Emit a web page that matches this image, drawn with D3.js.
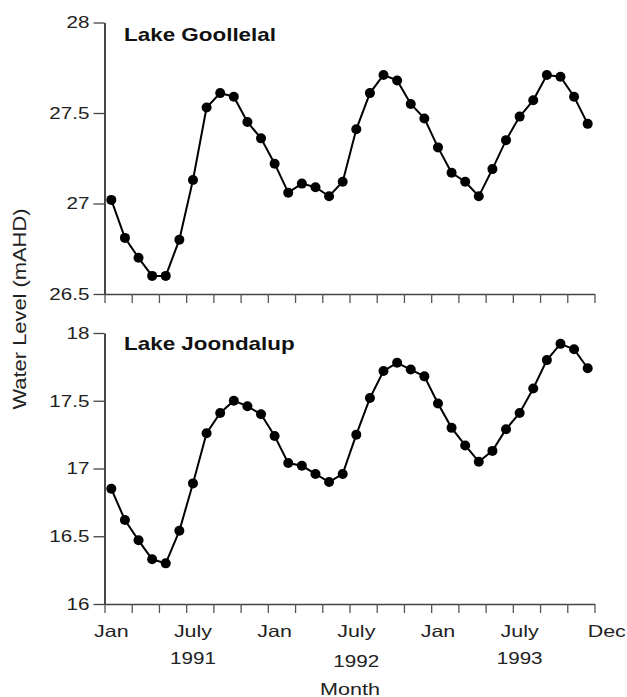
<!DOCTYPE html>
<html><head><meta charset="utf-8">
<script src="https://cdn.jsdelivr.net/npm/d3@7"></script>
<style>body{margin:0;background:#fff}svg{display:block}</style>
</head><body>
<script>
// Monthly water levels, Jan 1991 .. Dec 1993 (36 months)
const goollelal = [27.02,26.81,26.70,26.60,26.60,26.80,27.13,27.53,27.61,27.59,27.45,27.36,
                   27.22,27.06,27.11,27.09,27.04,27.12,27.41,27.61,27.71,27.68,27.55,27.47,
                   27.31,27.17,27.12,27.04,27.19,27.35,27.48,27.57,27.71,27.70,27.59,27.44];
const joondalup = [16.85,16.62,16.47,16.33,16.30,16.54,16.89,17.26,17.41,17.50,17.46,17.40,
                   17.24,17.04,17.02,16.96,16.90,16.96,17.25,17.52,17.72,17.78,17.73,17.68,
                   17.48,17.30,17.17,17.05,17.13,17.29,17.41,17.59,17.80,17.92,17.88,17.74];
const panelTitles = ["Lake Goollelal", "Lake Joondalup"];
const topTicks = [26.5, 27, 27.5, 28];
const bottomTicks = [16, 16.5, 17, 17.5, 18];
const xTickMonths = d3.range(0, 37, 2);
const monthLabels = ["Jan", "July", "Jan", "July", "Jan", "July", "Dec"];
const monthLabelIdx = [0, 6, 12, 18, 24, 30, 35];
const yearLabels = ["1991", "1992", "1993"];
const yearLabelIdx = [6, 18, 30];
const yLabel = "Water Level (mAHD)";
const xLabel = "Month";

const W = 627, H = 697;
const svg = d3.select("body").append("svg").attr("width", W).attr("height", H);
const FONT = "'Liberation Sans', Arial, Helvetica, sans-serif";

function stretch(sel, k) {
  sel.each(function () {
    const w = this.getComputedTextLength();
    d3.select(this).attr("textLength", w * k).attr("lengthAdjust", "spacingAndGlyphs");
  });
}

const x = d3.scaleLinear().domain([0, 36]).range([104.5, 594.5]);

const panels = [
  { data: goollelal, ticks: topTicks, domain: [26.5, 28], range: [294, 22.5], title: panelTitles[0], titleY: 41 },
  { data: joondalup, ticks: bottomTicks, domain: [16, 18], range: [604, 333], title: panelTitles[1], titleY: 349.5 }
];

panels.forEach(p => {
  const y = d3.scaleLinear().domain(p.domain).range(p.range);
  const g = svg.append("g");

  // x axis
  const xa = g.append("g").attr("transform", `translate(0,${p.range[0]})`)
    .call(d3.axisBottom(x).tickValues(xTickMonths).tickSize(9).tickSizeOuter(0).tickFormat(""));
  xa.select(".domain").attr("stroke", "#444").attr("stroke-width", 1.6);
  xa.selectAll(".tick line").attr("stroke", "#555").attr("stroke-width", 1.3);

  // y axis
  const ya = g.append("g").attr("transform", `translate(${x(0)},0)`)
    .call(d3.axisLeft(y).tickValues(p.ticks).tickSize(11).tickPadding(4).tickSizeOuter(0).tickFormat(d => String(d)));
  ya.select(".domain").attr("stroke", "#333").attr("stroke-width", 1.8);
  ya.selectAll(".tick line").attr("stroke", "#444").attr("stroke-width", 1.3);
  ya.selectAll(".tick text").attr("font-family", FONT).attr("font-size", 16.5).attr("fill", "#222");
  stretch(ya.selectAll(".tick text"), 1.25);

  // line + dots
  const line = d3.line().x((d, i) => x(i + 0.5)).y(d => y(d));
  g.append("path").datum(p.data).attr("d", line)
    .attr("fill", "none").attr("stroke", "#000").attr("stroke-width", 2);
  g.selectAll("circle").data(p.data).join("circle")
    .attr("cx", (d, i) => x(i + 0.5)).attr("cy", d => y(d)).attr("r", 5).attr("fill", "#000");

  // title
  const t = g.append("text").attr("x", 124).attr("y", p.titleY)
    .attr("font-family", FONT).attr("font-weight", "bold").attr("font-size", 19).attr("fill", "#111")
    .text(p.title);
  stretch(t, 1.18);
});

// month labels
const ml = svg.append("g").selectAll("text").data(monthLabels).join("text")
  .attr("x", (d, i) => monthLabelIdx[i] === 35 ? x(35.5) : x(monthLabelIdx[i] + 0.5))
  .attr("y", 636.5)
  .attr("text-anchor", (d, i) => monthLabelIdx[i] === 35 ? "start" : "middle")
  .attr("font-family", FONT).attr("font-size", 16.5).attr("fill", "#222")
  .text(d => d);
stretch(ml, 1.3);

const yl = svg.append("g").selectAll("text").data(yearLabels).join("text")
  .attr("x", (d, i) => x(yearLabelIdx[i] + 0.5))
  .attr("y", (d, i) => i === 1 ? 666.5 : 664)
  .attr("text-anchor", "middle")
  .attr("font-family", FONT).attr("font-size", 16.5).attr("fill", "#222")
  .text(d => d);
stretch(yl, 1.25);

const xt = svg.append("text").attr("x", 350).attr("y", 694.5).attr("text-anchor", "middle")
  .attr("font-family", FONT).attr("font-size", 17).attr("fill", "#222").text(xLabel);
stretch(xt, 1.27);

const yt = svg.append("text").attr("transform", "translate(26,309) rotate(-90)")
  .attr("text-anchor", "middle")
  .attr("font-family", FONT).attr("font-size", 17.5).attr("fill", "#222").text(yLabel);
stretch(yt, 1.25);
</script>
</body></html>
